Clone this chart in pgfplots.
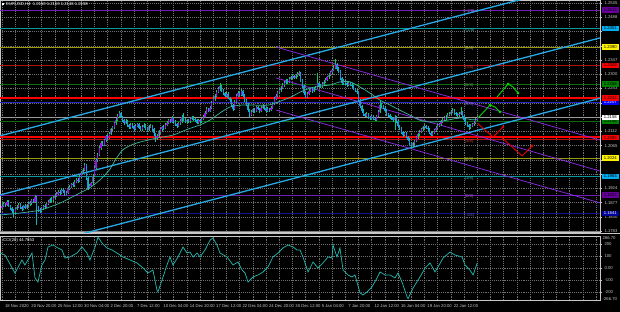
\documentclass[border=0pt]{standalone}
\usepackage{fontspec}
\setmainfont{Liberation Sans}
\usepackage{pgfplots}
\usepackage{pgfplotstable}
\pgfplotsset{compat=1.18}
\definecolor{upbody}{HTML}{9A10E8}
\definecolor{upwick}{HTML}{10C860}
\definecolor{dnbody}{HTML}{1898E0}
\definecolor{dnwick}{HTML}{10B8C0}
\definecolor{chan}{HTML}{27A9E6}
\definecolor{pch}{HTML}{8A2BE2}
\definecolor{mac}{HTML}{3DB89E}
\definecolor{ccic}{HTML}{22B2A8}
\definecolor{mPur}{HTML}{7020B0}
\definecolor{mCyan}{HTML}{0A9A9A}
\definecolor{mOlive}{HTML}{9A9A10}
\definecolor{mRed}{HTML}{B01010}
\definecolor{mGreen}{HTML}{0F6A0F}
\definecolor{mBlue}{HTML}{2828C8}
\definecolor{mNavy}{HTML}{14148C}
\definecolor{gridc}{HTML}{6E6E6E}
\definecolor{fgc}{HTML}{C8C8C8}
\newcommand\lab{\fontsize{4.2}{5}\selectfont}

\pgfplotstableread{
x o h l c
0 1.1860 1.1871 1.1855 1.1865
1 1.1865 1.1878 1.1861 1.1872
2 1.1872 1.1877 1.1863 1.1868
3 1.1868 1.1886 1.1865 1.1880
4 1.1880 1.1884 1.1862 1.1866
5 1.1866 1.1870 1.1852 1.1858
6 1.1858 1.1861 1.1843 1.1850
7 1.1850 1.1855 1.1830 1.1845
8 1.1845 1.1860 1.1840 1.1856
9 1.1856 1.1868 1.1851 1.1864
10 1.1864 1.1876 1.1860 1.1870
11 1.1870 1.1874 1.1857 1.1862
12 1.1862 1.1866 1.1850 1.1855
13 1.1855 1.1870 1.1852 1.1866
14 1.1866 1.1871 1.1855 1.1860
15 1.1860 1.1873 1.1856 1.1868
16 1.1868 1.1879 1.1864 1.1872
17 1.1872 1.1882 1.1867 1.1875
18 1.1875 1.1889 1.1870 1.1884
19 1.1884 1.1890 1.1876 1.1880
20 1.1880 1.1902 1.1877 1.1895
21 1.1895 1.1898 1.1803 1.1860
22 1.1860 1.1866 1.1845 1.1852
23 1.1852 1.1858 1.1843 1.1850
24 1.1850 1.1862 1.1846 1.1858
25 1.1858 1.1870 1.1854 1.1866
26 1.1866 1.1872 1.1857 1.1862
27 1.1862 1.1877 1.1858 1.1873
28 1.1873 1.1885 1.1869 1.1880
29 1.1880 1.1893 1.1876 1.1888
30 1.1888 1.1894 1.1879 1.1884
31 1.1884 1.1898 1.1880 1.1893
32 1.1893 1.1905 1.1889 1.1899
33 1.1899 1.1911 1.1894 1.1905
34 1.1905 1.1917 1.1901 1.1912
35 1.1912 1.1918 1.1903 1.1908
36 1.1908 1.1926 1.1904 1.1920
37 1.1920 1.1925 1.1909 1.1914
38 1.1914 1.1918 1.1900 1.1906
39 1.1906 1.1916 1.1902 1.1910
40 1.1910 1.1927 1.1906 1.1922
41 1.1922 1.1936 1.1918 1.1930
42 1.1930 1.1943 1.1925 1.1938
43 1.1938 1.1944 1.1929 1.1934
44 1.1934 1.1950 1.1930 1.1945
45 1.1945 1.1958 1.1941 1.1952
46 1.1952 1.1957 1.1943 1.1948
47 1.1948 1.1967 1.1944 1.1962
48 1.1962 1.1981 1.1958 1.1975
49 1.1975 1.1992 1.1970 1.1986
50 1.1986 1.2007 1.1981 1.2000
51 1.2000 1.2003 1.1950 1.1958
52 1.1958 1.1962 1.1920 1.1925
53 1.1925 1.1938 1.1921 1.1932
54 1.1932 1.1946 1.1928 1.1940
55 1.1940 1.1970 1.1936 1.1965
56 1.1965 1.1996 1.1960 1.1990
57 1.1990 1.2024 1.1986 1.2018
58 1.2018 1.2042 1.2012 1.2035
59 1.2035 1.2063 1.2030 1.2058
60 1.2058 1.2081 1.2052 1.2075
61 1.2075 1.2080 1.2062 1.2068
62 1.2068 1.2088 1.2063 1.2082
63 1.2082 1.2100 1.2077 1.2095
64 1.2095 1.2101 1.2084 1.2090
65 1.2090 1.2110 1.2086 1.2104
66 1.2104 1.2124 1.2100 1.2118
67 1.2118 1.2131 1.2113 1.2125
68 1.2125 1.2143 1.2120 1.2138
69 1.2138 1.2156 1.2134 1.2150
70 1.2150 1.2168 1.2146 1.2162
71 1.2162 1.2180 1.2157 1.2172
72 1.2172 1.2176 1.2155 1.2160
73 1.2160 1.2164 1.2142 1.2148
74 1.2148 1.2153 1.2133 1.2140
75 1.2140 1.2152 1.2135 1.2146
76 1.2146 1.2150 1.2127 1.2132
77 1.2132 1.2137 1.2118 1.2125
78 1.2125 1.2139 1.2120 1.2133
79 1.2133 1.2138 1.2122 1.2128
80 1.2128 1.2132 1.2114 1.2120
81 1.2120 1.2135 1.2116 1.2130
82 1.2130 1.2141 1.2125 1.2135
83 1.2135 1.2139 1.2119 1.2124
84 1.2124 1.2128 1.2112 1.2118
85 1.2118 1.2132 1.2114 1.2127
86 1.2127 1.2138 1.2122 1.2133
87 1.2133 1.2136 1.2117 1.2122
88 1.2122 1.2126 1.2110 1.2116
89 1.2116 1.2133 1.2112 1.2128
90 1.2128 1.2137 1.2124 1.2131
91 1.2131 1.2134 1.2113 1.2118
92 1.2118 1.2122 1.2098 1.2105
93 1.2105 1.2108 1.2077 1.2090
94 1.2090 1.2103 1.2084 1.2098
95 1.2098 1.2115 1.2094 1.2110
96 1.2110 1.2124 1.2105 1.2118
97 1.2118 1.2131 1.2113 1.2126
98 1.2126 1.2132 1.2117 1.2122
99 1.2122 1.2139 1.2118 1.2134
100 1.2134 1.2146 1.2129 1.2140
101 1.2140 1.2154 1.2135 1.2148
102 1.2148 1.2152 1.2138 1.2143
103 1.2143 1.2161 1.2139 1.2155
104 1.2155 1.2159 1.2141 1.2146
105 1.2146 1.2150 1.2131 1.2136
106 1.2136 1.2140 1.2124 1.2130
107 1.2130 1.2143 1.2126 1.2138
108 1.2138 1.2151 1.2133 1.2145
109 1.2145 1.2165 1.2141 1.2158
110 1.2158 1.2172 1.2145 1.2150
111 1.2150 1.2155 1.2138 1.2143
112 1.2143 1.2154 1.2137 1.2149
113 1.2149 1.2153 1.2139 1.2145
114 1.2145 1.2158 1.2141 1.2153
115 1.2153 1.2164 1.2148 1.2158
116 1.2158 1.2162 1.2147 1.2152
117 1.2152 1.2157 1.2144 1.2150
118 1.2150 1.2154 1.2136 1.2141
119 1.2141 1.2153 1.2137 1.2148
120 1.2148 1.2152 1.2139 1.2145
121 1.2145 1.2157 1.2141 1.2152
122 1.2152 1.2166 1.2148 1.2160
123 1.2160 1.2180 1.2156 1.2174
124 1.2174 1.2191 1.2170 1.2185
125 1.2185 1.2190 1.2175 1.2180
126 1.2180 1.2196 1.2176 1.2190
127 1.2190 1.2211 1.2186 1.2205
128 1.2205 1.2224 1.2200 1.2218
129 1.2218 1.2236 1.2213 1.2230
130 1.2230 1.2248 1.2226 1.2242
131 1.2242 1.2257 1.2237 1.2250
132 1.2250 1.2270 1.2246 1.2260
133 1.2260 1.2264 1.2242 1.2248
134 1.2248 1.2252 1.2232 1.2238
135 1.2238 1.2243 1.2224 1.2230
136 1.2230 1.2241 1.2225 1.2236
137 1.2236 1.2240 1.2217 1.2222
138 1.2222 1.2226 1.2209 1.2215
139 1.2215 1.2219 1.2192 1.2198
140 1.2198 1.2202 1.2180 1.2185
141 1.2185 1.2215 1.2182 1.2210
142 1.2210 1.2236 1.2205 1.2230
143 1.2230 1.2244 1.2225 1.2238
144 1.2238 1.2242 1.2227 1.2232
145 1.2232 1.2250 1.2228 1.2245
146 1.2245 1.2248 1.2225 1.2230
147 1.2230 1.2234 1.2209 1.2215
148 1.2215 1.2219 1.2194 1.2200
149 1.2200 1.2204 1.2176 1.2182
150 1.2182 1.2186 1.2159 1.2165
151 1.2165 1.2181 1.2161 1.2176
152 1.2176 1.2190 1.2171 1.2185
153 1.2185 1.2189 1.2174 1.2180
154 1.2180 1.2197 1.2176 1.2192
155 1.2192 1.2196 1.2181 1.2186
156 1.2186 1.2190 1.2174 1.2180
157 1.2180 1.2195 1.2176 1.2190
158 1.2190 1.2201 1.2185 1.2195
159 1.2195 1.2199 1.2183 1.2188
160 1.2188 1.2192 1.2175 1.2180
161 1.2180 1.2191 1.2176 1.2186
162 1.2186 1.2190 1.2177 1.2182
163 1.2182 1.2195 1.2178 1.2190
164 1.2190 1.2209 1.2186 1.2203
165 1.2203 1.2224 1.2199 1.2218
166 1.2218 1.2236 1.2214 1.2230
167 1.2230 1.2246 1.2225 1.2240
168 1.2240 1.2254 1.2235 1.2248
169 1.2248 1.2261 1.2243 1.2255
170 1.2255 1.2270 1.2250 1.2264
171 1.2264 1.2278 1.2259 1.2272
172 1.2272 1.2286 1.2267 1.2280
173 1.2280 1.2284 1.2269 1.2274
174 1.2274 1.2290 1.2270 1.2285
175 1.2285 1.2296 1.2280 1.2290
176 1.2290 1.2301 1.2285 1.2295
177 1.2295 1.2299 1.2283 1.2288
178 1.2288 1.2302 1.2284 1.2296
179 1.2296 1.2306 1.2291 1.2300
180 1.2300 1.2310 1.2295 1.2305
181 1.2305 1.2308 1.2275 1.2280
182 1.2280 1.2284 1.2254 1.2260
183 1.2260 1.2264 1.2232 1.2238
184 1.2238 1.2242 1.2222 1.2225
185 1.2225 1.2241 1.2223 1.2236
186 1.2236 1.2251 1.2231 1.2245
187 1.2245 1.2256 1.2240 1.2250
188 1.2250 1.2254 1.2239 1.2244
189 1.2244 1.2257 1.2240 1.2252
190 1.2252 1.2261 1.2247 1.2255
191 1.2255 1.2305 1.2251 1.2270
192 1.2270 1.2276 1.2257 1.2262
193 1.2262 1.2268 1.2254 1.2260
194 1.2260 1.2273 1.2256 1.2268
195 1.2268 1.2282 1.2263 1.2276
196 1.2276 1.2288 1.2271 1.2282
197 1.2282 1.2296 1.2277 1.2290
198 1.2290 1.2304 1.2285 1.2298
199 1.2298 1.2312 1.2293 1.2306
200 1.2306 1.2321 1.2301 1.2315
201 1.2315 1.2330 1.2310 1.2322
202 1.2322 1.2349 1.2317 1.2330
203 1.2330 1.2336 1.2312 1.2318
204 1.2318 1.2323 1.2304 1.2310
205 1.2310 1.2314 1.2282 1.2288
206 1.2288 1.2292 1.2264 1.2270
207 1.2270 1.2284 1.2265 1.2278
208 1.2278 1.2282 1.2266 1.2272
209 1.2272 1.2276 1.2259 1.2265
210 1.2265 1.2277 1.2260 1.2272
211 1.2272 1.2276 1.2260 1.2266
212 1.2266 1.2270 1.2254 1.2260
213 1.2260 1.2264 1.2247 1.2252
214 1.2252 1.2256 1.2240 1.2246
215 1.2246 1.2250 1.2234 1.2240
216 1.2240 1.2243 1.2209 1.2215
217 1.2215 1.2219 1.2189 1.2195
218 1.2195 1.2199 1.2174 1.2180
219 1.2180 1.2184 1.2164 1.2170
220 1.2170 1.2174 1.2158 1.2164
221 1.2164 1.2175 1.2160 1.2170
222 1.2170 1.2173 1.2154 1.2160
223 1.2160 1.2164 1.2150 1.2156
224 1.2156 1.2167 1.2152 1.2162
225 1.2162 1.2165 1.2148 1.2154
226 1.2154 1.2158 1.2145 1.2150
227 1.2150 1.2167 1.2146 1.2162
228 1.2162 1.2181 1.2158 1.2175
229 1.2175 1.2215 1.2171 1.2200
230 1.2200 1.2204 1.2188 1.2194
231 1.2194 1.2198 1.2184 1.2190
232 1.2190 1.2194 1.2175 1.2180
233 1.2180 1.2184 1.2164 1.2170
234 1.2170 1.2174 1.2160 1.2166
235 1.2166 1.2170 1.2154 1.2160
236 1.2160 1.2164 1.2149 1.2155
237 1.2155 1.2159 1.2144 1.2150
238 1.2150 1.2165 1.2116 1.2160
239 1.2160 1.2163 1.2140 1.2145
240 1.2145 1.2149 1.2125 1.2130
241 1.2130 1.2134 1.2116 1.2122
242 1.2122 1.2126 1.2104 1.2110
243 1.2110 1.2114 1.2094 1.2100
244 1.2100 1.2111 1.2096 1.2106
245 1.2106 1.2109 1.2089 1.2094
246 1.2094 1.2098 1.2080 1.2085
247 1.2085 1.2089 1.2066 1.2072
248 1.2072 1.2076 1.2054 1.2065
249 1.2065 1.2077 1.2060 1.2072
250 1.2072 1.2085 1.2068 1.2080
251 1.2080 1.2097 1.2076 1.2092
252 1.2092 1.2108 1.2088 1.2102
253 1.2102 1.2116 1.2097 1.2110
254 1.2110 1.2124 1.2105 1.2118
255 1.2118 1.2131 1.2113 1.2125
256 1.2125 1.2136 1.2120 1.2130
257 1.2130 1.2134 1.2119 1.2124
258 1.2124 1.2128 1.2114 1.2120
259 1.2120 1.2123 1.2103 1.2108
260 1.2108 1.2112 1.2095 1.2100
261 1.2100 1.2113 1.2096 1.2108
262 1.2108 1.2121 1.2104 1.2115
263 1.2115 1.2130 1.2111 1.2124
264 1.2124 1.2136 1.2119 1.2130
265 1.2130 1.2141 1.2125 1.2135
266 1.2135 1.2150 1.2131 1.2144
267 1.2144 1.2156 1.2140 1.2150
268 1.2150 1.2161 1.2145 1.2155
269 1.2155 1.2166 1.2150 1.2160
270 1.2160 1.2172 1.2155 1.2166
271 1.2166 1.2176 1.2161 1.2170
272 1.2170 1.2183 1.2165 1.2177
273 1.2177 1.2190 1.2172 1.2180
274 1.2180 1.2184 1.2167 1.2172
275 1.2172 1.2176 1.2162 1.2168
276 1.2168 1.2172 1.2159 1.2165
277 1.2165 1.2175 1.2160 1.2170
278 1.2170 1.2192 1.2165 1.2175
279 1.2175 1.2178 1.2157 1.2162
280 1.2162 1.2166 1.2144 1.2150
281 1.2150 1.2154 1.2134 1.2140
282 1.2140 1.2144 1.2126 1.2132
283 1.2132 1.2136 1.2116 1.2125
284 1.2125 1.2135 1.2120 1.2130
285 1.2130 1.2141 1.2125 1.2136
286 1.2136 1.2146 1.2131 1.2140
287 1.2140 1.2156 1.2135 1.2150
288 1.2150 1.2163 1.2146 1.2158
}\candles

\pgfplotstableread{
x y
-1.2 1.1836
10 1.1842
23 1.1852
35 1.1875
47 1.1908
53 1.1925
59 1.1950
65 1.1984
69 1.2020
73 1.2050
78 1.2066
84 1.2077
94 1.2090
104 1.2100
112 1.2118
120 1.2133
126 1.2149
132 1.2172
138 1.2192
144 1.2198
150 1.2199
156 1.2198
162 1.2199
168 1.2210
175 1.2225
181 1.2242
187 1.2255
193 1.2261
199 1.2265
205 1.2275
211 1.2275
217 1.2258
223 1.2238
229 1.2215
235 1.2199
241 1.2182
247 1.2166
253 1.2149
259 1.2143
265 1.2144
270 1.2149
278 1.2156
285 1.2150
288 1.2150
}\matab

\pgfplotstableread{
x y
-1.2 125
1.8 108
7.9 -42
12.1 67
13.9 25
18.2 125
20 -83
21.8 -117
24.2 25
26.1 67
27.9 175
30.9 192
33.9 167
36.4 150
38.2 83
41.2 92
45.5 125
48.5 175
51.5 125
53.3 67
56.4 175
58.2 258
60.6 208
63.6 167
66.7 150
69.7 125
73.3 92
77.6 67
81.8 42
85.5 0
88.5 -42
91.5 -17
93.9 -183
94.5 -200
97.6 -75
100 25
101.8 92
103.6 25
106.7 92
109.7 175
112.1 125
113.9 133
115.8 92
118.2 125
120 92
123 150
126.1 233
127.9 250
130.3 192
132.1 125
136.4 92
140 25
143 50
145.5 -17
147.3 -42
149.1 -117
152.1 -75
155.2 -58
158.2 -33
161.2 8
164.2 92
167.3 125
170.3 167
173.3 192
176.4 175
178.8 150
180.6 150
182.4 92
185.5 -33
188.5 50
191.5 0
194.5 42
197.6 92
200 83
200.6 192
203 92
204.8 167
206.7 -17
209.7 -58
212.1 -75
213.9 -58
217 -208
218.8 -225
221.2 -200
224.2 -158
227.3 -83
229.1 -33
232.1 -58
235.2 -58
238.2 -83
240 -42
242.4 -117
245.5 -242
246.1 -255
249.1 -167
253.3 -75
256.4 0
259.4 42
262.4 -33
264.2 8
267.3 83
271.5 133
274.5 108
278.8 92
280.6 25
283.6 -17
285.5 -58
288 42
}\ccitab

\begin{document}
\begin{tikzpicture}
\path[use as bounding box] (0,0) rectangle (620pt,-312pt);
\fill[black] (0,0) rectangle (620pt,-312pt);

\begin{axis}[
  at={(0pt,0pt)}, anchor=north west,
  scale only axis, width=600pt, height=232pt,
  xmin=-1.2, xmax=362.4, ymin=1.1780, ymax=1.2545,
  clip mode=individual,
  axis line style={draw=fgc, line width=0.5pt},
  xtick={0,8,...,360}, xticklabels={},
  xtick style={draw=none},
  ytick={1.1783,1.1830,1.1877,1.1924,1.1971,1.2018,1.2065,1.2112,1.2159,1.2206,1.2253,1.2300,1.2347,1.2394,1.2441,1.2488,1.2535},
  yticklabels={1.1783,1.1830,1.1877,1.1924,{},{},1.2065,1.2112,{},{},1.2253,1.2300,1.2347,{},{},1.2488,1.2535},
  ytick pos=right, yticklabel pos=right,
  ytick style={draw=fgc, line width=0.4pt},
  major tick length=1.5pt, tick align=outside,
  yticklabel style={font=\lab, text=fgc, anchor=west, xshift=-0.5pt},
  xmajorgrids, ymajorgrids,
  grid style={draw=gridc, line width=0.35pt, dash pattern=on 0.6pt off 1.3pt},
]
% Murray levels
\addplot[mPur, line width=0.7pt] coordinates {(-1.2,1.2512) (362.4,1.2512)};
\addplot[mCyan, line width=0.7pt] coordinates {(-1.2,1.2451) (362.4,1.2451)};
\addplot[mOlive, line width=0.7pt] coordinates {(-1.2,1.2390) (362.4,1.2390)};
\addplot[mRed, line width=0.7pt] coordinates {(-1.2,1.2329) (362.4,1.2329)};
\addplot[mGreen, line width=0.7pt] coordinates {(-1.2,1.2268) (362.4,1.2268)};
\addplot[mBlue, line width=0.7pt] coordinates {(-1.2,1.2207) (362.4,1.2207)};
\addplot[mGreen, line width=0.7pt] coordinates {(-1.2,1.2146) (362.4,1.2146)};
\addplot[mRed, line width=0.7pt] coordinates {(-1.2,1.2085) (362.4,1.2085)};
\addplot[mOlive, line width=0.7pt] coordinates {(-1.2,1.2024) (362.4,1.2024)};
\addplot[mCyan, line width=0.7pt] coordinates {(-1.2,1.1963) (362.4,1.1963)};
\addplot[mPur, line width=0.7pt] coordinates {(-1.2,1.1902) (362.4,1.1902)};
\addplot[mNavy, line width=0.7pt] coordinates {(-1.2,1.1841) (362.4,1.1841)};
\addplot[gray, line width=0.7pt] coordinates {(-1.2,1.1781) (362.4,1.1781)};
% current price
\addplot[gray!80, line width=0.5pt] coordinates {(-1.2,1.2158) (362.4,1.2158)};
% red S/R lines
\addplot[red, line width=1.3pt] coordinates {(-1.2,1.2222) (362.4,1.2222)};
\addplot[red, line width=1.3pt] coordinates {(-1.2,1.2093) (362.4,1.2093)};
% rising channel
\addplot[chan, line width=1.3pt] coordinates {(-1.2,1.2097) (362.4,1.2615)};
\addplot[chan, line width=1.3pt] coordinates {(-1.2,1.1902) (362.4,1.2420)};
\addplot[chan, line width=1.3pt] coordinates {(-1.2,1.1703) (362.4,1.2221)};
% falling channel
\addplot[pch, line width=0.75pt] coordinates {(166.1,1.2390) (362.4,1.2083)};
\addplot[pch, line width=0.75pt] coordinates {(166.1,1.2288) (362.4,1.1981)};
\addplot[pch, line width=0.75pt] coordinates {(166.1,1.2182) (362.4,1.1876)};
% candles: wicks (low to high)
\addplot[upwick, line width=0.4pt, forget plot,
  restrict expr to domain={\thisrow{c}-\thisrow{o}}{0:1},
  quiver={u=0, v=\thisrow{h}-\thisrow{l}}]
  table[x=x, y=l] {\candles};
\addplot[dnwick, line width=0.4pt, forget plot,
  restrict expr to domain={\thisrow{o}-\thisrow{c}}{0.00001:1},
  quiver={u=0, v=\thisrow{h}-\thisrow{l}}]
  table[x=x, y=l] {\candles};
% candles: bodies (open to close)
\addplot[upbody, line width=1.2pt, forget plot,
  restrict expr to domain={\thisrow{c}-\thisrow{o}}{0:1},
  quiver={u=0, v=\thisrow{c}-\thisrow{o}}]
  table[x=x, y=o] {\candles};
\addplot[dnbody, line width=1.2pt, forget plot,
  restrict expr to domain={\thisrow{o}-\thisrow{c}}{0.00001:1},
  quiver={u=0, v=\thisrow{c}-\thisrow{o}}]
  table[x=x, y=o] {\candles};
% moving average
\addplot[mac, line width=0.7pt, smooth, tension=0.4] table[x=x, y=y] {\matab};
% forecast paths
\addplot[green!85!black, line width=0.9pt, mark=*, mark size=0.8pt, mark indices={2,4}] coordinates {(288.5,1.2156) (295.8,1.2199) (298.8,1.2192) (301.8,1.2176)};
\addplot[green!85!black, line width=0.9pt, mark=*, mark size=0.8pt, mark indices={2,4}] coordinates {(300,1.2225) (306.7,1.2268) (309.7,1.2258) (312.7,1.2238)};
\addplot[red!90!black, line width=0.9pt, mark=*, mark size=0.8pt, mark indices={3}] coordinates {(288,1.2139) (297.6,1.2093) (303.6,1.2126)};
\addplot[red!90!black, line width=0.9pt, mark=*, mark size=0.8pt, mark indices={3}] coordinates {(302.5,1.2093) (315.2,1.2031) (321.2,1.2064)};
% Murray labels
\begin{scope}[every node/.style={font=\lab, anchor=north, inner sep=0.3pt, yshift=0.6pt}]
\node[text=mPur!70!white] at (axis cs:283,1.2512) {[+2/8]};
\node[text=mCyan!80!white] at (axis cs:283,1.2451) {[+1/8]};
\node[text=mOlive!80!white] at (axis cs:283,1.2390) {[8/8]};
\node[text=mRed!80!white] at (axis cs:283,1.2329) {[7/8]};
\node[text=mGreen!70!white] at (axis cs:283,1.2268) {[6/8]};
\node[text=mBlue!70!white] at (axis cs:283,1.2207) {[5/8]};
\node[text=mRed!80!white] at (axis cs:283,1.2085) {[3/8]};
\node[text=mOlive!80!white] at (axis cs:283,1.2024) {[2/8]};
\node[text=mCyan!80!white] at (axis cs:283,1.1963) {[1/8]};
\node[text=mPur!70!white] at (axis cs:283,1.1902) {[0/8]};
\node[text=mNavy!70!white] at (axis cs:283,1.1841) {[-1/8]};
\end{scope}
% right-scale price boxes
\begin{scope}[every node/.style={font=\lab, anchor=west, inner sep=0.6pt, minimum width=17pt, minimum height=5.6pt, xshift=1.6pt}]
\node[fill=violet!80!blue, text=black] at (axis cs:362.4,1.2512) {1.2512};
\node[fill=cyan, text=black] at (axis cs:362.4,1.2451) {1.2451};
\node[fill=yellow, text=black] at (axis cs:362.4,1.2390) {1.2390};
\node[fill=red, text=black] at (axis cs:362.4,1.2329) {1.2329};
\node[fill=green!50!black, text=black] at (axis cs:362.4,1.2268) {1.2268};
\node[fill=blue, text=white] at (axis cs:362.4,1.2207) {1.2207};
\node[fill=red, text=black] at (axis cs:362.4,1.2222) {1.2222};
\node[fill=green!50!black, text=black] at (axis cs:362.4,1.2146) {1.2146};
\node[fill=white, text=black] at (axis cs:362.4,1.2158) {1.2158};
\node[fill=red, text=black] at (axis cs:362.4,1.2091) {1.2093};
\node[fill=yellow, text=black] at (axis cs:362.4,1.2024) {1.2024};
\node[fill=cyan, text=black] at (axis cs:362.4,1.1963) {1.1963};
\node[fill=violet!80!blue, text=black] at (axis cs:362.4,1.1902) {1.1902};
\node[fill=blue!60!black, text=white] at (axis cs:362.4,1.1841) {1.1841};
\end{scope}
\end{axis}

\draw[fgc, line width=1.4pt] (0,-233.6pt) -- (620pt,-233.6pt);

\begin{axis}[
  at={(0pt,-236pt)}, anchor=north west,
  scale only axis, width=600pt, height=64pt,
  xmin=-1.2, xmax=362.4, ymin=-266.7, ymax=266.7,
  axis line style={draw=fgc, line width=0.5pt},
  xtick={0,8,...,360},
  xticklabels={18 Nov 2020,{},20 Nov 20:00,{},25 Nov 12:00,{},30 Nov 04:00,{},2 Dec 20:00,{},7 Dec 12:00,{},10 Dec 04:00,{},14 Dec 20:00,{},17 Dec 12:00,{},22 Dec 04:00,{},24 Dec 20:00,{},30 Dec 12:00,{},5 Jan 04:00,{},7 Jan 20:00,{},12 Jan 12:00,{},15 Jan 04:00,{},19 Jan 20:00,{},22 Jan 12:00,{},{},{},{},{},{},{},{},{},{},{},{}},
  xticklabel style={font=\lab, text=fgc, anchor=north west, xshift=-0.5pt, yshift=0.5pt},
  xtick style={draw=none},
  ytick={-200,-100,0,100,200},
  yticklabels={-200,-100,0.00,100,200},
  ytick pos=right, yticklabel pos=right,
  ytick style={draw=fgc, line width=0.4pt},
  major tick length=1.5pt, tick align=outside,
  yticklabel style={font=\lab, text=fgc, anchor=west, xshift=-0.5pt},
  xmajorgrids, ymajorgrids,
  grid style={draw=gridc, line width=0.35pt, dash pattern=on 0.6pt off 1.3pt},
]
\addplot[ccic, line width=0.75pt] table[x=x, y=y] {\ccitab};
\end{axis}

\fill[white] (1.5pt,-2.8pt) rectangle (4.2pt,-5.2pt);
\node[anchor=west, text=white, font=\lab, inner sep=0] at (6pt,-4pt) {EURUSD,H4\ \ 1.2150 1.2163 1.2146 1.2158};
\node[anchor=west, text=white, font=\lab, inner sep=0] at (3pt,-240pt) {CCI(20) 44.7853};
\node[anchor=west, text=fgc, font=\lab, inner sep=0] at (602.5pt,-238pt) {266.70};
\node[anchor=west, text=fgc, font=\lab, inner sep=0] at (602.5pt,-299pt) {-266.70};
\end{tikzpicture}
\end{document}
